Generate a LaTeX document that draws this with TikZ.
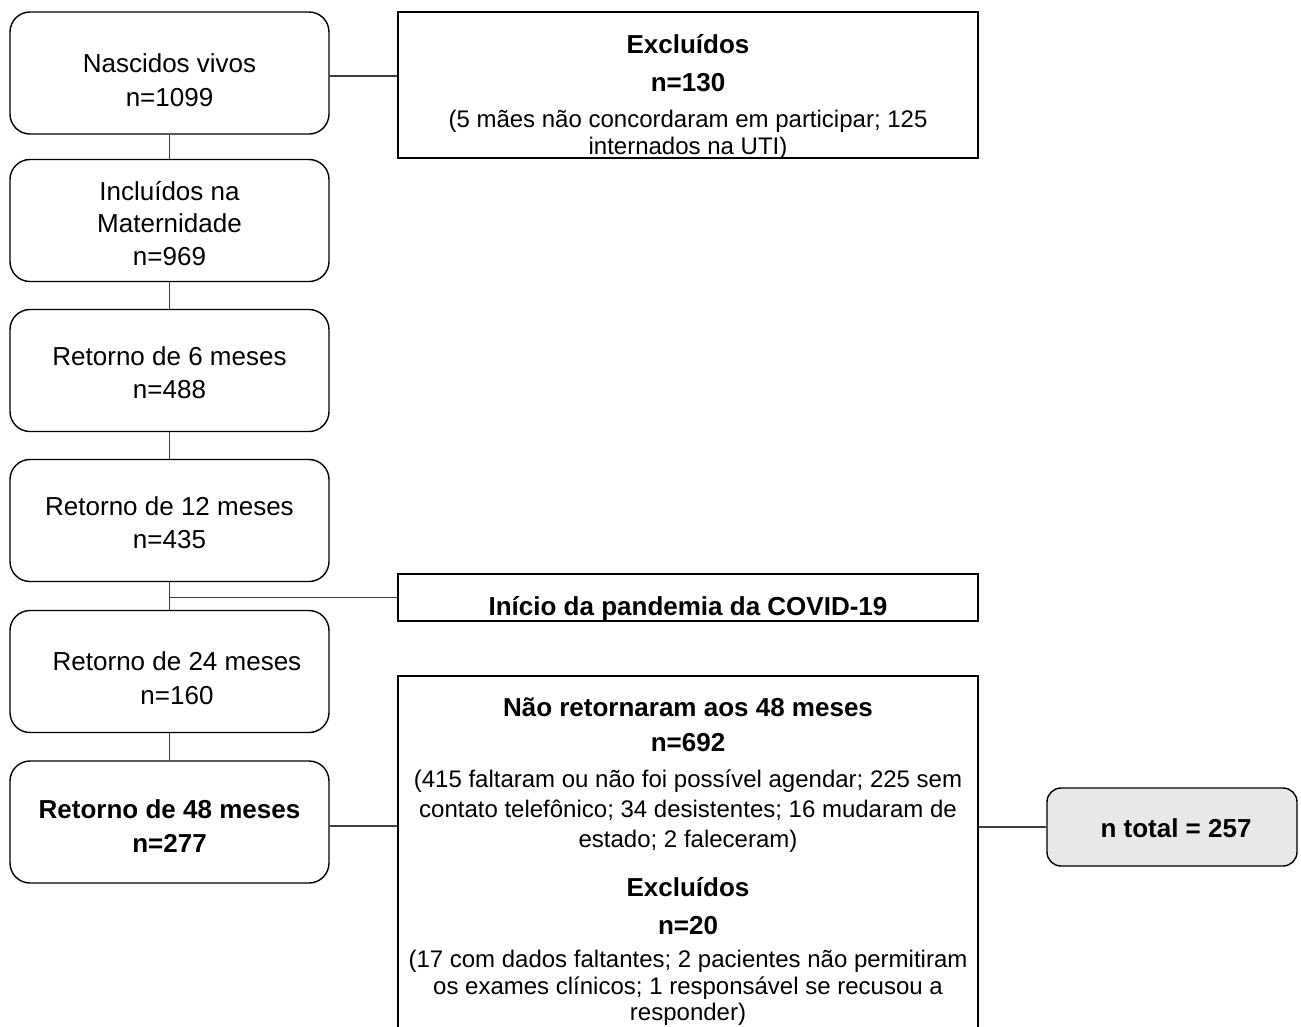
\documentclass[tikz,border=0pt]{standalone}
\usepackage{fontspec}
\setmainfont{Liberation Sans}
\begin{document}
\begin{tikzpicture}[x=1pt,y=-1pt,
  lbox/.style={draw=black,line width=1.4pt,rounded corners=20pt,minimum width=319pt,minimum height=122pt,inner sep=0pt},
  rbox/.style={draw=black,line width=1.4pt,inner sep=0pt,minimum width=580pt},
  tbox/.style={draw=black,line width=1.4pt,rounded corners=14pt,fill=black!9,inner sep=0pt,minimum width=250pt,minimum height=78pt},
  txt/.style={anchor=base,inner sep=0pt,font=\fontsize{26}{31}\selectfont},
  stxt/.style={anchor=base,inner sep=0pt,font=\fontsize{24}{29}\selectfont},
  btxt/.style={txt,font=\fontsize{26}{31}\selectfont\bfseries},
  conn/.style={draw=black!75,line width=1.3pt}]
\useasboundingbox (0,0) rectangle (1301,1026);
\clip (0,0) rectangle (1301,1026);
% left column boxes
\node[lbox] (b1) at (169.5,73) {};
\node[lbox] (b2) at (169.5,220.5) {};
\node[lbox] (b3) at (169.5,370.5) {};
\node[lbox] (b4) at (169.5,520.5) {};
\node[lbox] (b5) at (169.5,671.5) {};
\node[lbox] (b6) at (169.5,822) {};
% right boxes
\node[rbox,minimum height=146pt] (ex1) at (688,85) {};
\node[rbox,minimum height=47pt] (cov) at (688,597.5) {};
\node[rbox,minimum height=384pt] (big) at (688,868) {};
\node[tbox] (ntot) at (1172,827) {};
% connectors
\draw[conn] (b1) -- (b2);
\draw[conn] (b2) -- (b3);
\draw[conn] (b3) -- (b4);
\draw[conn] (b4) -- (b5);
\draw[conn] (b5) -- (b6);
\draw[conn] ([yshift=-3pt]b1.east) -- ([yshift=-3pt]b1.east -| ex1.west);
\coordinate (sp) at (b4.south |- cov.west);
\draw[conn] (sp) -- (cov.west);
\draw[conn] ([yshift=-4pt]b6.east) -- ([yshift=-4pt]b6.east -| big.west);
\draw[conn] (big.east |- ntot.west) -- (ntot.west);
% left texts
\node[txt] (t1a) at (169.5,72) {Nascidos vivos};
\node[txt] (t1b) at (169.5,106) {n=1099};
\node[txt] (t2a) at (169.5,200) {Incluídos na};
\node[txt] (t2b) at (169.5,232) {Maternidade};
\node[txt] (t2c) at (169.5,265) {n=969};
\node[txt] (t3a) at (169.5,365) {Retorno de 6 meses};
\node[txt] (t3b) at (169.5,398) {n=488};
\node[txt] (t4a) at (169.5,515) {Retorno de 12 meses};
\node[txt] (t4b) at (169.5,548) {n=435};
\node[txt] (t5a) at (177,670) {Retorno de 24 meses};
\node[txt] (t5b) at (177,704) {n=160};
\node[btxt] (t6a) at (169.5,818) {Retorno de 48 meses};
\node[btxt] (t6b) at (169.5,852) {n=277};
% right texts
\node[btxt] (e1a) at (688,53) {Excluídos};
\node[btxt] (e1b) at (688,91) {n=130};
\node[stxt] (e1c) at (688,127) {(5 mães não concordaram em participar; 125};
\node[stxt] (e1d) at (688,154) {internados na UTI)};
\node[btxt] (cv) at (688,615) {Início da pandemia da COVID-19};
\node[btxt] (g1) at (688,716) {Não retornaram aos 48 meses};
\node[btxt] (g2) at (688,751) {n=692};
\node[stxt] (g3) at (688,787) {(415 faltaram ou não foi possível agendar; 225 sem};
\node[stxt] (g4) at (688,817) {contato telefônico; 34 desistentes; 16 mudaram de};
\node[stxt] (g5) at (688,847) {estado; 2 faleceram)};
\node[btxt] (g6) at (688,896) {Excluídos};
\node[btxt] (g7) at (688,934) {n=20};
\node[stxt] (g8) at (688,967) {(17 com dados faltantes; 2 pacientes não permitiram};
\node[stxt] (g9) at (688,994) {os exames clínicos; 1 responsável se recusou a};
\node[stxt] (g10) at (688,1020) {responder)};
\node[btxt] (nt) at (1176,837) {n total = 257};
\end{tikzpicture}
\end{document}
